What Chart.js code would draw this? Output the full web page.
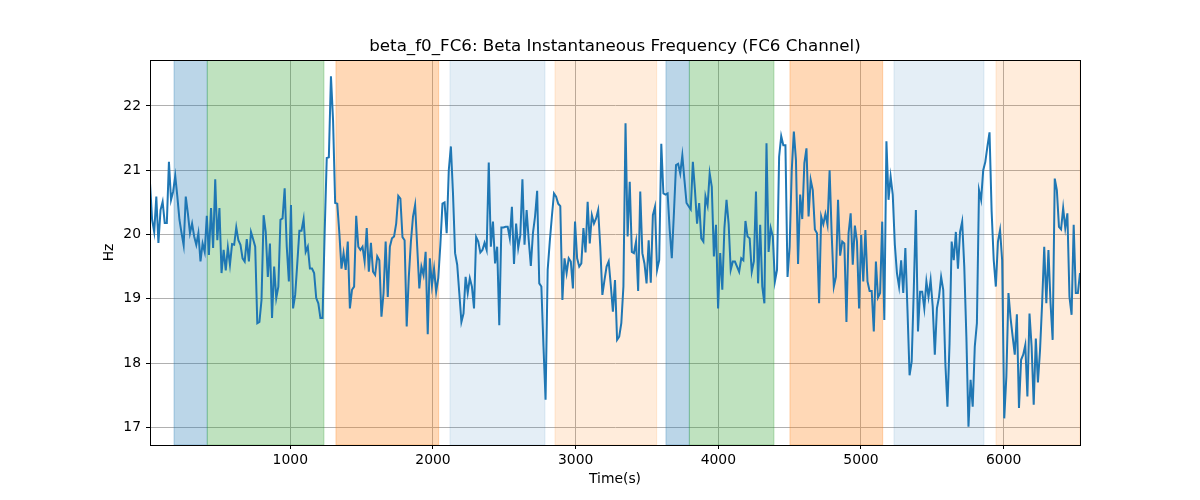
<!DOCTYPE html>
<html>
<head>
<meta charset="utf-8">
<script src="https://cdn.jsdelivr.net/npm/chart.js@4.4.1/dist/chart.umd.min.js"></script>
<style>
html,body{margin:0;padding:0;background:#fff;}
#wrap{width:1200px;height:500px;}
</style>
</head>
<body>
<div id="wrap"><canvas id="c" width="1200" height="500"></canvas></div>
<script>
// time range of the trace (seconds)
var T_START=16.7, T_END=6535;
var X_TICKS=[1000,2000,3000,4000,5000,6000];
var Y_TICKS=[17,18,19,20,21,22];
var TITLE='beta_f0_FC6: Beta Instantaneous Frequency (FC6 Channel)';

// beta instantaneous frequency, FC6 (Hz), evenly sampled between T_START and T_END
var FREQ=[
20.80,20.23,20.04,20.59,19.87,20.38,20.51,20.18,20.18,21.13,20.54,20.67,20.91,20.59,20.23,20.02,19.83,20.59,20.33,20.02,
20.17,19.97,19.84,20.02,19.58,19.86,19.73,20.29,19.68,20.41,19.79,20.86,19.91,20.41,19.40,19.76,19.44,19.80,19.53,19.85,
19.84,20.11,19.91,19.84,19.63,19.58,19.93,19.58,20.04,19.93,19.81,18.62,18.64,18.98,20.30,20.04,19.34,19.86,18.70,19.50,
19.01,19.19,20.23,20.25,20.72,19.81,19.27,20.46,18.85,19.06,19.55,20.06,20.06,20.24,19.73,19.81,19.47,19.47,19.40,19.01,
18.93,18.70,18.70,20.02,21.19,21.20,22.46,21.78,20.49,20.48,20.02,19.47,19.71,19.45,19.89,18.85,19.14,19.19,20.29,19.81,
19.76,19.81,19.58,20.10,19.42,19.87,19.42,19.37,19.66,19.60,18.72,19.09,19.89,19.03,
19.81,19.94,19.97,20.17,20.60,20.56,19.96,19.91,18.57,19.34,19.89,20.28,20.46,19.81,19.16,19.50,19.37,19.73,18.45,19.63,
19.21,19.47,19.11,19.32,19.84,20.48,20.50,20.02,21.00,21.37,20.64,19.71,19.53,19.09,18.64,18.77,19.34,19.09,19.32,19.19,
18.85,19.96,19.89,19.72,19.76,19.87,19.76,21.12,19.81,20.20,19.55,19.81,18.59,20.11,20.11,
20.12,20.12,19.94,20.43,19.54,20.17,19.79,19.99,20.86,19.84,20.38,19.91,19.51,20.02,20.28,20.68,19.24,19.19,18.26,17.43,
19.45,19.89,20.28,20.64,20.59,20.48,20.44,18.98,19.63,19.40,19.63,19.58,19.16,20.20,19.63,19.50,19.55,20.10,19.72,20.51,
19.86,20.30,20.17,20.25,20.38,19.81,19.06,19.29,19.50,19.58,19.21,18.80,19.29,18.36,18.41,
18.62,19.19,21.73,19.97,20.82,19.73,19.71,19.89,19.12,20.67,19.71,19.55,19.24,19.91,19.25,20.30,20.43,19.45,19.60,21.41,
20.64,20.62,20.64,20.07,19.63,20.33,21.08,21.10,20.95,21.23,20.85,20.49,20.44,20.39,21.13,20.69,20.17,20.49,19.94,19.89,
20.59,20.45,20.95,20.74,19.66,20.15,18.85,19.71,19.14,20.10,20.54,20.17,19.45,19.58,
19.58,19.50,19.42,19.63,19.60,20.21,19.97,19.94,19.42,19.58,20.67,19.24,20.15,19.19,18.93,21.42,19.73,20.10,19.97,19.27,
19.45,21.21,21.53,21.39,21.39,19.34,19.81,21.00,21.60,21.16,19.54,20.62,20.24,21.11,21.34,20.28,20.85,20.69,20.08,20.02,
18.93,20.28,20.16,20.32,20.15,21.00,19.99,19.19,19.34,20.54,19.67,19.89,19.86,18.64,
20.02,20.33,19.53,20.14,19.89,18.85,19.99,19.27,20.07,19.27,19.12,19.12,18.49,19.58,19.02,19.09,20.20,18.67,21.45,20.54,
20.90,20.62,19.84,19.40,19.19,19.60,19.09,19.79,18.83,17.81,18.02,19.14,20.38,18.49,19.11,19.11,18.85,19.27,19.03,19.29,
18.88,18.13,18.85,19.03,19.34,19.14,18.00,17.32,18.31,19.89,19.60,20.04,19.47,20.04,20.20,
19.50,18.41,17.01,17.74,17.32,18.26,18.62,20.69,20.54,21.00,21.13,21.37,21.59,20.36,19.60,19.19,19.89,20.07,19.60,17.14,
17.79,19.09,18.70,18.41,18.13,18.76,17.30,18.05,18.13,18.28,17.48,18.77,18.26,17.35,18.38,17.70,18.20,18.93,19.81,18.93,
19.76,18.93,18.36,20.87,20.69,20.12,20.08,20.41,20.10,20.33,19.03,18.75,20.15,19.09,19.09,19.40
];

// shaded segments
var BAND_START=[185,418,1320,2119,2855,3633,3797,4502,5231,5946];
var BAND_END=[418,1236,2040,2785,3568,3797,4390,5152,5862,6535];
var BAND_COLOR=['rgba(31,119,180,0.3)','rgba(44,160,44,0.3)','rgba(255,127,14,0.3)','rgba(31,119,180,0.12)','rgba(255,127,14,0.15)',
  'rgba(31,119,180,0.3)','rgba(44,160,44,0.3)','rgba(255,127,14,0.3)','rgba(31,119,180,0.12)','rgba(255,127,14,0.15)'];

var pts=FREQ.map(function(v,i){return {x:T_START+i*(T_END-T_START)/(FREQ.length-1), y:v};});

var FONT='"DejaVu Sans", sans-serif';

var bands={
  id:'bands',
  beforeDatasetsDraw:function(ch){
    var xs=ch.scales.x, a=ch.chartArea, g=ch.ctx;
    g.save();
    g.beginPath(); g.rect(a.left,a.top,a.right-a.left,a.bottom-a.top); g.clip();
    BAND_START.forEach(function(s,i){
      var x0=xs.getPixelForValue(s), x1=xs.getPixelForValue(BAND_END[i]);
      g.fillStyle=BAND_COLOR[i];
      g.fillRect(x0,a.top,x1-x0,a.bottom-a.top);
      g.strokeStyle=BAND_COLOR[i]; g.lineWidth=1;
      g.strokeRect(x0,a.top,x1-x0,a.bottom-a.top);
    });
    g.restore();
  }
};
// frame + title centred over the plot area (matplotlib style)
var frame={
  id:'frame',
  afterDraw:function(ch){
    var a=ch.chartArea, g=ch.ctx;
    g.save(); g.strokeStyle='#000'; g.lineWidth=1;
    g.strokeRect(Math.round(a.left)+0.5,Math.round(a.top)+0.5,Math.round(a.right-a.left),Math.round(a.bottom-a.top));
    g.fillStyle='#000'; g.font='16.7px '+FONT; g.textAlign='center'; g.textBaseline='middle';
    g.fillText(TITLE,(a.left+a.right)/2,a.top-13);
    g.restore();
  }
};

new Chart(document.getElementById('c'),{
  type:'line',
  data:{datasets:[{data:pts,borderColor:'#1f77b4',borderWidth:2,pointRadius:0,tension:0,fill:false}]},
  options:{
    responsive:false,animation:false,
    layout:{padding:{left:97,right:120,top:60,bottom:8}},
    plugins:{legend:{display:false},tooltip:{enabled:false},title:{display:false}},
    scales:{
      x:{type:'linear',min:T_START,max:T_END,
        afterBuildTicks:function(s){s.ticks=X_TICKS.map(function(v){return {value:v};});},
        afterFit:function(s){s.height=47;},
        grid:{color:'#b0b0b0',lineWidth:1,tickLength:4,tickColor:'#000'},
        border:{color:'#000'},
        ticks:{color:'#000',font:{family:FONT,size:13.9},padding:3,maxRotation:0,callback:function(v){return String(v);}},
        title:{display:true,text:'Time(s)',color:'#000',font:{family:FONT,size:13.9},padding:{top:2,bottom:4}}
      },
      y:{min:16.725,max:22.715,
        afterBuildTicks:function(s){s.ticks=Y_TICKS.map(function(v){return {value:v};});},
        afterFit:function(s){s.width=53;},
        grid:{color:'#b0b0b0',lineWidth:1,tickLength:4,tickColor:'#000'},
        border:{color:'#000'},
        ticks:{color:'#000',font:{family:FONT,size:13.9},padding:5,callback:function(v){return String(v);}},
        title:{display:true,text:'Hz',color:'#000',font:{family:FONT,size:13.9},padding:{top:4,bottom:4}}
      }
    }
  },
  plugins:[bands,frame]
});
</script>
</body>
</html>
